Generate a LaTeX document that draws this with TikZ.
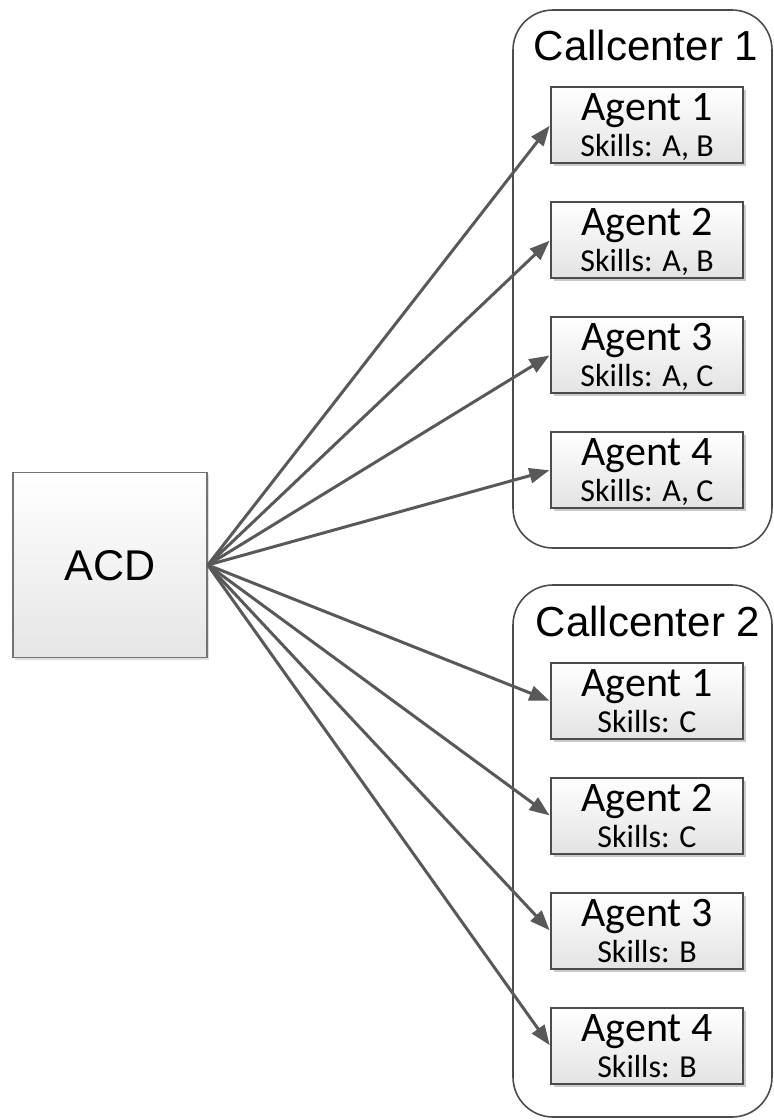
\documentclass[tikz,border=0pt]{standalone}
\usepackage{fontspec}
\setmainfont{Liberation Sans}
\newfontfamily\calibrifont{Carlito}
\usetikzlibrary{arrows.meta,shadows}

\begin{document}
\begin{tikzpicture}[x=1pt,y=-1pt,
  group/.style={draw=black!70, line width=1.6pt, rounded corners=40pt, minimum width=259pt, inner sep=0pt},
  agentbox/.style={draw=black!70, line width=1.4pt, top color=white, bottom color=black!11,
    minimum width=192pt, minimum height=76pt, inner sep=0pt,
    drop shadow={shadow xshift=3pt, shadow yshift=-3pt, opacity=0.35, fill=black!60}},
  acdbox/.style={draw=black!55, line width=1.6pt, top color=white, bottom color=black!10,
    minimum width=194pt, minimum height=185pt, inner sep=0pt,
    drop shadow={shadow xshift=2pt, shadow yshift=-2pt, opacity=0.25, fill=black!50}},
  titletext/.style={anchor=base, inner sep=0pt, font=\fontsize{42}{42}\selectfont},
  agenttext/.style={anchor=base, inner sep=0pt, font=\calibrifont\fontsize{42}{42}\selectfont},
  skilltext/.style={anchor=base, inner sep=0pt, font=\calibrifont\fontsize{32}{32}\selectfont},
  link/.style={draw=black!65, line width=3pt, -{Triangle[length=20pt,width=15pt]}, shorten >=1pt}
]
\useasboundingbox (0,0) rectangle (774,1120);

% call center groups
\node[group, minimum height=538pt] (cc1) at (642.5,279) {};
\node[group, minimum height=532pt] (cc2) at (642.5,851) {};
\node[titletext] (cc1title) at (646,60) {Callcenter 1};
\node[titletext] (cc2title) at (648,636) {Callcenter 2};

% the dispatcher
\node[acdbox] (acd) at (110,565) {};
\node[anchor=base, inner sep=0pt, font=\fontsize{43}{43}\selectfont] (acdtext) at (110,580) {ACD};

% agents of both call centers
\foreach \name/\top/\num/\skills in {
  a11/87/1/{A, B}, a12/202/2/{A, B}, a13/317/3/{A, C}, a14/432/4/{A, C},
  a21/663/1/{C}, a22/778/2/{C}, a23/893/3/{B}, a24/1008/4/{B}} {
  \node[agentbox] (\name) at (647,\top+38) {};
  \node[agenttext] (\name t) at (647,\top+33) {Agent \num};
  \node[skilltext] (\name s) at (647,\top+69) {Skills: \skills};
}

% routing from the dispatcher to every agent
\foreach \name in {a11,a12,a13,a14,a21,a22,a23,a24}
  \draw[link] (acd.east) -- (\name.west);
\end{tikzpicture}
\end{document}
